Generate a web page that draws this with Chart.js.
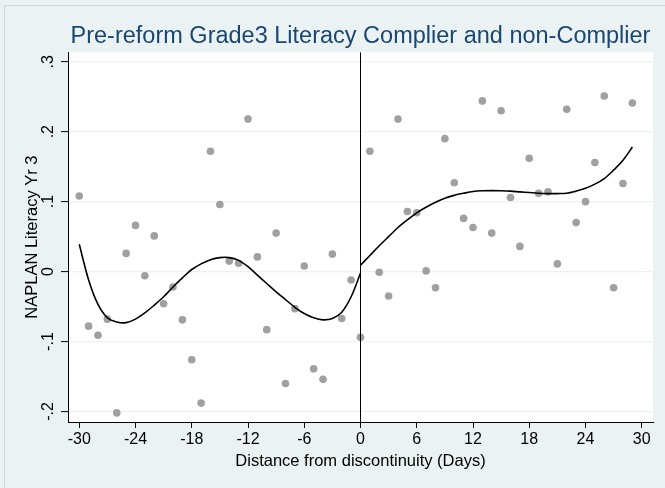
<!DOCTYPE html>
<html>
<head>
<meta charset="utf-8">
<title>Pre-reform Grade3 Literacy Complier and non-Complier</title>
<script src="https://cdn.jsdelivr.net/npm/chart.js@4.4.1/dist/chart.umd.min.js"></script>
<style>
  html, body { margin: 0; padding: 0; background: #EAF2F3; }
  #wrap { width: 665px; height: 488px; position: relative; }
</style>
</head>
<body>
<div id="wrap"><canvas id="c" width="665" height="488"></canvas></div>
<script>
// Days relative to the cutoff, and mean NAPLAN Yr 3 literacy per day
const daysBefore = [-30, -29, -28, -27, -26, -25, -24, -23, -22, -21, -20, -19, -18, -17, -16,
                    -15, -14, -13, -12, -11, -10, -9, -8, -7, -6, -5, -4, -3, -2, -1];
const scoreBefore = [0.108, -0.078, -0.091, -0.068, -0.202, 0.026, 0.066, -0.006, 0.051, -0.046,
                     -0.022, -0.069, -0.126, -0.188, 0.172, 0.096, 0.015, 0.012, 0.218, 0.021,
                     -0.083, 0.055, -0.160, -0.053, 0.008, -0.139, -0.154, 0.025, -0.067, -0.012];
const daysAfter = [0, 1, 2, 3, 4, 5, 6, 7, 8, 9, 10, 11, 12, 13, 14,
                   15, 16, 17, 18, 19, 20, 21, 22, 23, 24, 25, 26, 27, 28, 29];
const scoreAfter = [-0.094, 0.172, -0.001, -0.035, 0.218, 0.086, 0.084, 0.001, -0.023, 0.190,
                    0.127, 0.076, 0.063, 0.244, 0.055, 0.230, 0.106, 0.036, 0.162, 0.112,
                    0.114, 0.011, 0.232, 0.070, 0.100, 0.156, 0.251, -0.023, 0.126, 0.241];

// Fitted polynomial on each side of the cutoff
const fitDaysBefore = [-30, -29, -28, -27, -26, -25, -24, -23, -22, -21, -20, -19, -18, -17, -16,
                       -15, -14, -13, -12, -11, -10, -9, -8, -7, -6, -5, -4, -3, -2, -1, 0];
const fitBefore = [0.039, -0.012, -0.047, -0.066, -0.072, -0.073, -0.068, -0.059, -0.048, -0.036,
                   -0.022, -0.009, 0.003, 0.011, 0.017, 0.020, 0.020, 0.016, 0.007, -0.005,
                   -0.017, -0.029, -0.040, -0.051, -0.060, -0.066, -0.069, -0.067, -0.058, -0.036, -0.002];
const fitDaysAfter = [0, 1, 2, 3, 4, 5, 6, 7, 8, 9, 10, 11, 12, 13, 14,
                      15, 16, 17, 18, 19, 20, 21, 22, 23, 24, 25, 26, 27, 28, 29];
const fitAfter = [0.009, 0.023, 0.037, 0.050, 0.063, 0.074, 0.084, 0.092, 0.099, 0.105,
                  0.109, 0.112, 0.1145, 0.1155, 0.1157, 0.1155, 0.115, 0.114, 0.113, 0.112,
                  0.1115, 0.1115, 0.112, 0.115, 0.119, 0.125, 0.133, 0.145, 0.159, 0.178];

const cutoffDay = 0;
const xTicks = [-30, -24, -18, -12, -6, 0, 6, 12, 18, 24, 30];
const yTicks = [-0.2, -0.1, 0, 0.1, 0.2, 0.3];
const yTickLabels = ['-.2', '-.1', '0', '.1', '.2', '.3'];
const xRange = [-31.2, 31.2];
const yRange = [-0.215, 0.3136];

const FONT = '"Liberation Sans", Arial, Helvetica, sans-serif';
const pts = (xs, ys) => xs.map((x, i) => ({ x: x, y: ys[i] }));

// Page background, white plot region and outer frame
const backdrop = {
  id: 'backdrop',
  beforeDraw(chart) {
    const { ctx, chartArea: a } = chart;
    ctx.save();
    ctx.fillStyle = '#EAF2F3';
    ctx.fillRect(0, 0, chart.width, chart.height);
    ctx.strokeStyle = '#cfd7db';
    ctx.lineWidth = 1;
    ctx.strokeRect(4.5, 5.5, chart.width + 10, chart.height + 10);
    ctx.fillStyle = '#ffffff';
    ctx.fillRect(a.left, a.top, a.right - a.left, a.bottom - a.top);
    ctx.restore();
  }
};

// Vertical y tick labels, read from bottom to top
const verticalYLabels = {
  id: 'verticalYLabels',
  afterDraw(chart) {
    const { ctx, scales: { y } } = chart;
    ctx.save();
    ctx.fillStyle = '#000';
    ctx.font = '16px ' + FONT;
    ctx.textAlign = 'center';
    ctx.textBaseline = 'middle';
    yTicks.forEach((v, i) => {
      ctx.save();
      ctx.translate(y.left + 49, y.getPixelForValue(v));
      ctx.rotate(-Math.PI / 2);
      ctx.fillText(yTickLabels[i], 0, 0);
      ctx.restore();
    });
    ctx.restore();
  }
};

new Chart(document.getElementById('c'), {
  type: 'scatter',
  data: {
    datasets: [
      {
        label: 'Before cutoff',
        data: pts(daysBefore, scoreBefore),
        pointRadius: 3.8, pointHoverRadius: 3.8,
        pointBackgroundColor: '#a0a0a0', pointBorderWidth: 0,
        showLine: false, order: 3
      },
      {
        label: 'After cutoff',
        data: pts(daysAfter, scoreAfter),
        pointRadius: 3.8, pointHoverRadius: 3.8,
        pointBackgroundColor: '#a0a0a0', pointBorderWidth: 0,
        showLine: false, order: 3
      },
      {
        label: 'Fit before',
        data: pts(fitDaysBefore, fitBefore),
        showLine: true, pointRadius: 0, borderColor: '#000', borderWidth: 1.6,
        tension: 0.35, fill: false, order: 1
      },
      {
        label: 'Fit after',
        data: pts(fitDaysAfter, fitAfter),
        showLine: true, pointRadius: 0, borderColor: '#000', borderWidth: 1.6,
        tension: 0.35, fill: false, order: 1
      },
      {
        label: 'Cutoff',
        data: [{ x: cutoffDay, y: yRange[0] }, { x: cutoffDay, y: yRange[1] }],
        showLine: true, pointRadius: 0, borderColor: '#000', borderWidth: 1,
        fill: false, order: 2
      }
    ]
  },
  options: {
    responsive: false,
    animation: false,
    events: [],
    layout: { padding: { left: 0, right: 12, top: 0, bottom: 0 } },
    plugins: {
      legend: { display: false },
      tooltip: { enabled: false },
      title: {
        display: true,
        text: 'Pre-reform Grade3 Literacy Complier and non-Complier',
        color: '#1a476f',
        fullSize: false,
        font: { family: FONT, size: 23.5, weight: 'normal', lineHeight: 1.2 },
        padding: { top: 22, bottom: 2 }
      }
    },
    scales: {
      x: {
        type: 'linear',
        min: xRange[0], max: xRange[1],
        afterBuildTicks: s => { s.ticks = xTicks.map(v => ({ value: v })); },
        afterFit: s => { s.height = 66; },
        grid: { drawOnChartArea: false, drawTicks: true, tickLength: 6, tickColor: '#000', tickWidth: 1 },
        border: { display: true, color: '#000', width: 1 },
        ticks: {
          color: '#000', font: { family: FONT, size: 16 }, padding: 2,
          maxRotation: 0, minRotation: 0, autoSkip: false,
          callback: v => String(v)
        },
        title: {
          display: true, text: 'Distance from discontinuity (Days)',
          color: '#000', font: { family: FONT, size: 16.5, lineHeight: 1.2 },
          padding: { top: 0, bottom: 17 }
        }
      },
      y: {
        type: 'linear',
        min: yRange[0], max: yRange[1],
        afterBuildTicks: s => { s.ticks = yTicks.map(v => ({ value: v })); },
        afterFit: s => { s.width = 68; },
        grid: { drawOnChartArea: true, color: '#EAF2F3', lineWidth: 1.2, drawTicks: true,
                tickLength: 7, tickColor: '#000', tickWidth: 1 },
        border: { display: true, color: '#000', width: 1 },
        ticks: { display: false },
        title: {
          display: true, text: 'NAPLAN Literacy Yr 3',
          color: '#000', font: { family: FONT, size: 16.5, lineHeight: 1.2 },
          padding: { top: 23, bottom: 0 }
        }
      }
    }
  },
  plugins: [backdrop, verticalYLabels]
});
</script>
</body>
</html>
